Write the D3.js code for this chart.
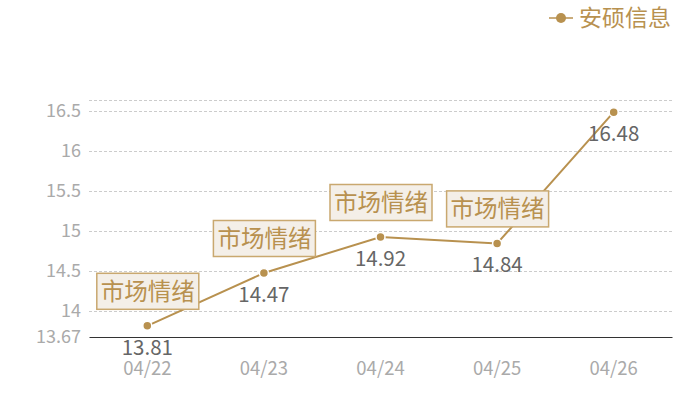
<!DOCTYPE html>
<html>
<head>
<meta charset="utf-8">
<script src="https://cdn.jsdelivr.net/npm/d3@7"></script>
<style>
  body { margin: 0; background: #fff; }
  text { font-family: "Noto Sans CJK SC", "Noto Sans", sans-serif; }
</style>
</head>
<body>
<svg width="700" height="400"></svg>
<script>
const dates = ['04/22', '04/23', '04/24', '04/25', '04/26'];
const prices = [13.81, 14.47, 14.92, 14.84, 16.48];
const notes = ['市场情绪', '市场情绪', '市场情绪', '市场情绪', ''];
const yTicks = [13.67, 14, 14.5, 15, 15.5, 16, 16.5];
const seriesName = '安硕信息';

const svg = d3.select('svg');
const gold = '#b8914f';

const margin = { top: 100, left: 89, right: 28, bottom: 63 };
const width = +svg.attr('width');
const height = +svg.attr('height');
const innerWidth = width - margin.left - margin.right;
const innerHeight = height - margin.top - margin.bottom;

const xScale = d3.scaleBand()
    .domain(dates)
    .range([0, innerWidth]);

const yMin = d3.min(yTicks);
const yScale = d3.scaleLinear()
    .domain([yMin, yMin + innerHeight / 80])
    .range([innerHeight, 0]);

const g = svg.append('g')
    .attr('transform', `translate(${margin.left}, ${margin.top})`);

// grid lines (including top border line)
g.selectAll('.grid')
    .data(yTicks.slice(1).concat([yScale.domain()[1]]))
    .enter()
    .append('line')
    .attr('x1', 0)
    .attr('x2', innerWidth)
    .attr('y1', d => Math.round(yScale(d)) + 0.5)
    .attr('y2', d => Math.round(yScale(d)) + 0.5)
    .attr('stroke', '#ccc')
    .attr('stroke-dasharray', '3,2');

// y axis labels
const yAxisG = g.append('g')
    .attr('font-size', 18)
    .call(d3.axisLeft(yScale).tickValues(yTicks).tickSize(0).tickPadding(8).tickFormat(d => d));
yAxisG.select('.domain').remove();
yAxisG.selectAll('text')
    .attr('fill', '#aaa')
    .style('font-size', '18px');

// x axis
const xAxisG = g.append('g')
    .attr('font-size', 18.5)
    .attr('transform', `translate(0, ${innerHeight})`)
    .call(d3.axisBottom(xScale).tickSize(0).tickPadding(25));
xAxisG.select('.domain').attr('stroke', '#333');
xAxisG.selectAll('text')
    .attr('fill', '#aaa')
    .style('font-size', '18.5px');

const cx = d => xScale(d) + xScale.bandwidth() / 2;
const data = dates.map((d, i) => ({ date: d, value: prices[i], note: notes[i] }));

// line
g.append('path')
    .datum(data)
    .attr('fill', 'none')
    .attr('stroke', gold)
    .attr('stroke-width', 2)
    .attr('d', d3.line().x(d => cx(d.date)).y(d => yScale(d.value)));

// points
g.selectAll('.pt')
    .data(data)
    .enter()
    .append('circle')
    .attr('cx', d => cx(d.date))
    .attr('cy', d => yScale(d.value))
    .attr('r', 4.5)
    .attr('fill', gold)
    .attr('stroke', '#fff')
    .attr('stroke-width', 1.5);

// value labels
g.selectAll('.val')
    .data(data)
    .enter()
    .append('text')
    .attr('x', d => cx(d.date))
    .attr('y', d => yScale(d.value) + 29)
    .attr('text-anchor', 'middle')
    .attr('fill', '#666')
    .style('font-size', '20.5px')
    .text(d => d.value.toFixed(2));

// note boxes
const boxW = 102, boxH = 36;
const notesG = g.selectAll('.note')
    .data(data.filter(d => d.note))
    .enter()
    .append('g')
    .attr('transform', d => `translate(${cx(d.date) - boxW / 2}, ${yScale(d.value) - 17 - boxH})`);

notesG.append('rect')
    .attr('x', 0.5)
    .attr('y', 0.5)
    .attr('width', boxW)
    .attr('height', boxH)
    .attr('fill', '#f4efe8')
    .attr('stroke', '#c9a86f')
    .attr('stroke-width', 1.5);

notesG.append('text')
    .attr('x', boxW / 2 + 0.5)
    .attr('y', boxH / 2 + 9)
    .attr('text-anchor', 'middle')
    .attr('fill', gold)
    .style('font-size', '23.5px')
    .text(d => d.note);

// legend
const legend = svg.append('g').attr('transform', 'translate(549, 18)');
legend.append('line')
    .attr('x1', 0).attr('x2', 24)
    .attr('stroke', gold).attr('stroke-width', 1.5);
legend.append('circle')
    .attr('cx', 12).attr('r', 5)
    .attr('fill', gold);
legend.append('text')
    .attr('x', 30)
    .attr('y', 8)
    .attr('fill', gold)
    .style('font-size', '23px')
    .text(seriesName);
</script>
</body>
</html>
